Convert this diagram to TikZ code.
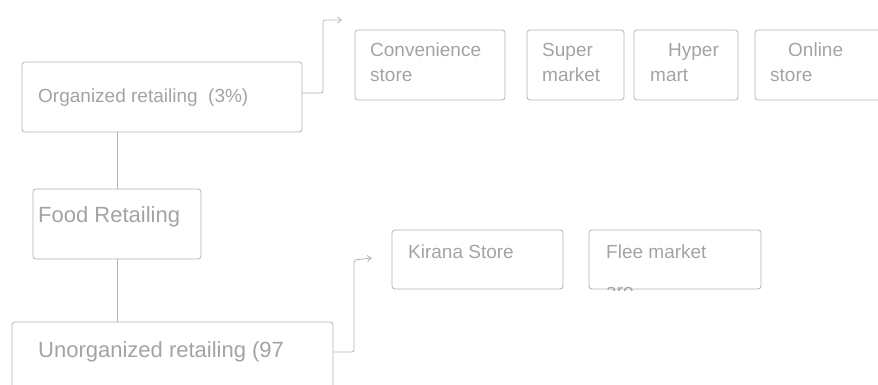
\documentclass[tikz,border=0pt]{standalone}
\usepackage{fontspec}
\setmainfont{Liberation Sans}
\usetikzlibrary{arrows.meta,calc}
\definecolor{ink}{gray}{0.64}
\definecolor{rule}{gray}{0.70}
\tikzset{
  box/.style={draw=rule, line width=0.8pt, rounded corners=3pt, inner sep=0pt, fill=none},
  lbl/.style={text=ink, inner sep=0pt, anchor=base west, font=\fontsize{19}{22}\selectfont},
  biglbl/.style={lbl, font=\fontsize{22}{26}\selectfont},
  link/.style={draw=rule, line width=0.8pt, rounded corners=2pt},
  tip/.style={-{Straight Barb[length=4pt,width=6pt]}}
}
\begin{document}
\begin{tikzpicture}[x=1pt,y=-1pt]
\useasboundingbox (0,0) rectangle (878,385);

% left column
\node[box, minimum width=280pt, minimum height=70pt] (org) at (162,97) {};
\node[box, minimum width=168pt, minimum height=70pt] (food) at (117,224) {};
\node[box, minimum width=321pt, minimum height=80pt] (unorg) at (172.5,362) {};

\node[lbl] (orgT) at (38,103) {Organized retailing\ \ (3\%)};
\node[biglbl] (foodT) at (38,222) {Food Retailing};
\node[biglbl] (unorgT) at (38,357) {Unorganized retailing (97};

% organized formats
\node[box, minimum width=150pt, minimum height=70pt] (conv) at (430,65) {};
\node[box, minimum width=97pt, minimum height=70pt] (super) at (575.5,65) {};
\node[box, minimum width=104pt, minimum height=70pt] (hyper) at (686,65) {};
\node[box, minimum width=135pt, minimum height=70pt] (online) at (822.5,65) {};

\node[lbl] (convA) at (370,57) {Convenience};
\node[lbl] (convB) at (370,82) {store};
\node[lbl] (superA) at (542,57) {Super};
\node[lbl] (superB) at (542,82) {market};
\node[lbl] (hyperA) at (668,57) {Hyper};
\node[lbl] (hyperB) at (650,82) {mart};
\node[lbl] (onlineA) at (788,57) {Online};
\node[lbl] (onlineB) at (770,82) {store};

% unorganized formats
\node[box, minimum width=171pt, minimum height=59pt] (kirana) at (477.5,259.5) {};
\node[box, minimum width=172pt, minimum height=59pt] (flee) at (675,259.5) {};

\node[lbl] (kiranaT) at (408,258) {Kirana Store};
\node[lbl] (fleeT) at (606,258) {Flee market};
\begin{scope}
  \clip (590,270) rectangle (760,290);
  \node[lbl] (fleeB) at (606,297) {are};
\end{scope}

% connectors
\coordinate (orgOut) at (org.east |- 0,93);
\coordinate (orgTip) at (342,20);
\draw[link, tip] (orgOut) -- (323,93) -- (323,20) -- (orgTip);

\draw[link] (food.north |- org.south) -- (food.north);
\draw[link] (food.south) -- (food.south |- unorg.north);

\coordinate (unorgOut) at (unorg.east |- 0,352);
\coordinate (unorgTip) at (372,258);
\draw[link, tip] (unorgOut) -- (354,352) -- (354,260) -- (unorgTip);
\end{tikzpicture}
\end{document}
